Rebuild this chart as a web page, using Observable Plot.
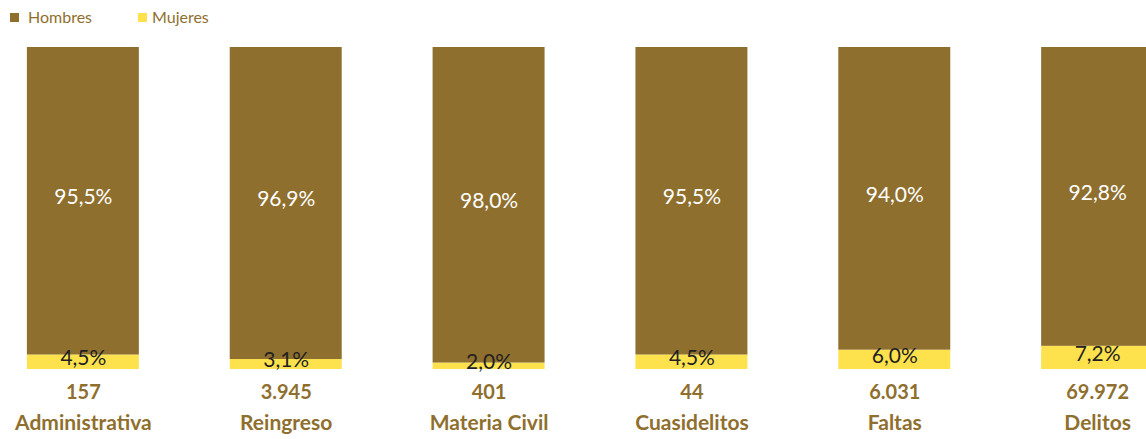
<!DOCTYPE html>
<html>
<head>
<meta charset="utf-8">
<script src="https://cdn.jsdelivr.net/npm/d3@7"></script>
<script src="https://cdn.jsdelivr.net/npm/@observablehq/plot@0.6"></script>
<style>
  html, body { margin: 0; padding: 0; background: #fff; overflow: hidden; }
  body { width: 1146px; height: 439px; font-family: Lato, "Open Sans", sans-serif; }
  #legend { position: relative; height: 36px; }
  .sw { position: absolute; top: 13px; width: 9px; height: 9px; }
  .lt { position: absolute; top: 7px; font-size: 16px; color: #8F6F2E; line-height: 20px; }
  #chart svg { display: block; }
</style>
</head>
<body>
<div id="legend"></div>
<div id="chart"></div>
<script>
const categories = ["Administrativa", "Reingreso", "Materia Civil", "Cuasidelitos", "Faltas", "Delitos"];
const totals = [157, 3945, 401, 44, 6031, 69972];
const hombres = [95.5, 96.9, 98.0, 95.5, 94.0, 92.8];
const mujeres = [4.5, 3.1, 2.0, 4.5, 6.0, 7.2];
const series = ["Mujeres", "Hombres"];
const colors = {Hombres: "#8F6F2E", Mujeres: "#FDE24D"};

const locale = d3.formatLocale({decimal: ",", thousands: ".", grouping: [3], currency: ["", ""]});
const fmtInt = locale.format(",d");
const fmtPct = v => locale.format(".1f")(v) + "%";

const rows = [];
categories.forEach((c, i) => {
  rows.push({cat: c, sexo: "Mujeres", pct: mujeres[i]});
  rows.push({cat: c, sexo: "Hombres", pct: hombres[i]});
});
const cats = categories.map((c, i) => ({cat: c, total: totals[i]}));

// legend
const legend = document.getElementById("legend");
[["Hombres", 10, 28], ["Mujeres", 138, 152]].forEach(([name, sx, tx]) => {
  const s = document.createElement("span");
  s.className = "sw"; s.style.left = sx + "px"; s.style.background = colors[name];
  const t = document.createElement("span");
  t.className = "lt"; t.style.left = tx + "px"; t.textContent = name;
  legend.appendChild(s); legend.appendChild(t);
});

const chart = Plot.plot({
  width: 1146,
  height: 403,
  marginLeft: 0,
  marginRight: 0,
  marginTop: 11,
  marginBottom: 70,
  style: {fontFamily: "Lato, 'Open Sans', sans-serif", background: "#fff"},
  x: {domain: categories, range: [-64, 1244], padding: 0.448, round: false, axis: null},
  y: {domain: [0, 100], axis: null},
  color: {domain: series, range: series.map(s => colors[s])},
  marks: [
    Plot.barY(rows, Plot.stackY({x: "cat", y: "pct", fill: "sexo"})),
    Plot.text(rows, Plot.stackY({
      x: "cat", y: "pct", z: "sexo",
      text: d => fmtPct(d.pct),
      fill: d => d.sexo === "Hombres" ? "#ffffff" : "#231F20",
      fontSize: 21, dy: -4, lineAnchor: "middle"
    })),
    Plot.text(cats, {x: "cat", y: 0, text: d => fmtInt(d.total), fill: "#8F6F2E",
      fontWeight: "bold", fontSize: 20, dy: 23, lineAnchor: "middle"}),
    Plot.text(cats, {x: "cat", y: 0, text: "cat", fill: "#8F6F2E",
      fontWeight: "bold", fontSize: 21, dy: 54, lineAnchor: "middle"})
  ]
});
document.getElementById("chart").appendChild(chart);
</script>
</body>
</html>
